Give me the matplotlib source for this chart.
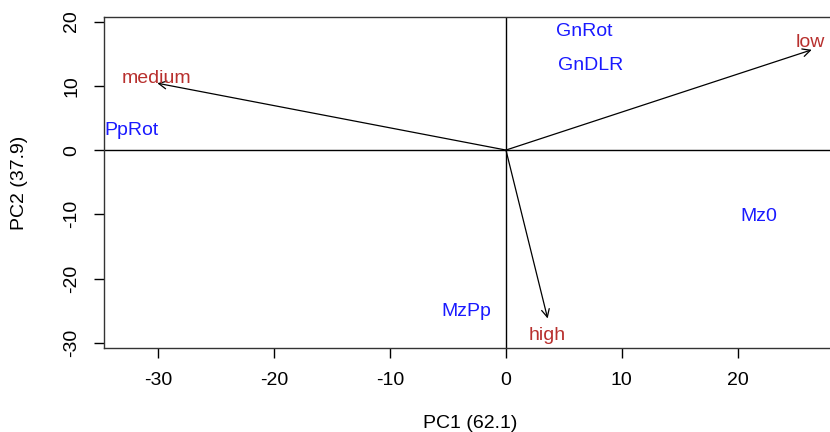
import matplotlib
matplotlib.use('Agg')
import matplotlib.pyplot as plt

# scores (sample labels)
samples = ["GnRot", "GnDLR", "PpRot", "Mz0", "MzPp"]
sample_x = [6.8, 7.3, -32.3, 21.8, -3.4]
sample_y = [18.4, 13.1, 3.0, -10.3, -25.1]

# loadings (variable arrows and their labels)
variables = ["low", "medium", "high"]
arrow_x = [26.4, -30.1, 3.6]
arrow_y = [15.6, 10.4, -26.2]
label_x = [26.3, -30.2, 3.6]
label_y = [16.8, 11.2, -28.8]

xticks = [-30, -20, -10, 0, 10, 20]
yticks = [-30, -20, -10, 0, 10, 20]

plt.rcParams['font.family'] = ['Liberation Sans', 'DejaVu Sans']
plt.rcParams['axes.unicode_minus'] = False

fs = 14

fig = plt.figure(figsize=(8.3, 4.32), dpi=100)
ax = fig.add_axes([0.1253, 0.1944, 0.889, 0.7662])
ax.set_xlim(-34.7, 29.0)
ax.set_ylim(-30.8, 20.7)

ax.axhline(0, color="black", lw=1)
ax.axvline(0, color="black", lw=1)

for name, x, y in zip(samples, sample_x, sample_y):
    ax.text(x, y, name, color="#1a1aff", fontsize=fs, ha="center", va="center")

for name, ax_, ay, lx, ly in zip(variables, arrow_x, arrow_y, label_x, label_y):
    ax.annotate("", xy=(ax_, ay), xytext=(0, 0),
                arrowprops=dict(arrowstyle="->", color="black", lw=0.9,
                                mutation_scale=14, shrinkA=0, shrinkB=0))
    ax.text(lx, ly, name, color="#b8302e", fontsize=fs, ha="center", va="center")

ax.set_xticks(xticks)
ax.set_yticks(yticks)
ax.tick_params(direction="out", length=7, width=1, labelsize=fs, pad=10)
for lab in ax.get_yticklabels():
    lab.set_rotation(90)
    lab.set_va("center")
for s in ax.spines.values():
    s.set_linewidth(1)
    s.set_color("#333333")

# axis titles placed like the R device output
fig.text(470 / 830, 1 - 424 / 432, "PC1 (62.1)", fontsize=fs, ha="center", va="center")
fig.text(20 / 830, 1 - 183 / 432, "PC2 (37.9)", fontsize=fs, ha="center", va="center",
         rotation=90)

fig.savefig("out.png", dpi=100)
